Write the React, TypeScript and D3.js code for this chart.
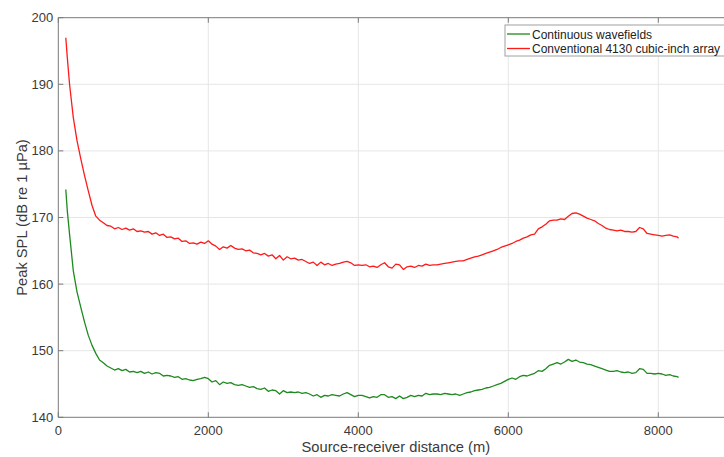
import React from "react";
import * as d3 from "d3";

const distances = [100, 120, 150, 200, 250, 300, 350, 400, 450, 500, 550, 600, 650, 700, 750, 800, 850, 900, 950, 1000, 1050, 1100, 1150, 1200, 1250, 1300, 1350, 1400, 1450, 1500, 1550, 1600, 1650, 1700, 1750, 1800, 1850, 1900, 1950, 2000, 2050, 2100, 2150, 2200, 2250, 2300, 2350, 2400, 2450, 2500, 2550, 2600, 2650, 2700, 2750, 2800, 2850, 2900, 2950, 3000, 3050, 3100, 3150, 3200, 3250, 3300, 3350, 3400, 3450, 3500, 3550, 3600, 3650, 3700, 3750, 3800, 3850, 3900, 3950, 4000, 4050, 4100, 4150, 4200, 4250, 4300, 4350, 4400, 4450, 4500, 4550, 4600, 4650, 4700, 4750, 4800, 4850, 4900, 4950, 5000, 5050, 5100, 5150, 5200, 5250, 5300, 5350, 5400, 5450, 5500, 5550, 5600, 5650, 5700, 5750, 5800, 5850, 5900, 5950, 6000, 6050, 6100, 6150, 6200, 6250, 6300, 6350, 6400, 6450, 6500, 6550, 6600, 6650, 6700, 6750, 6800, 6850, 6900, 6950, 7000, 7050, 7100, 7150, 7200, 7250, 7300, 7350, 7400, 7450, 7500, 7550, 7600, 7650, 7700, 7750, 7800, 7850, 7900, 7950, 8000, 8050, 8100, 8150, 8200, 8250, 8270];

const conventionalValues = [197, 194, 190, 185, 181.5, 178.8, 176.3, 174, 171.8, 170.2, 169.6, 169.2, 168.8, 168.7, 168.3, 168.5, 168.2, 168.4, 168.1, 168.3, 167.9, 168.0, 167.8, 167.9, 167.5, 167.7, 167.3, 167.5, 167.0, 167.1, 166.8, 166.9, 166.4, 166.5, 166.1, 166.2, 166.0, 166.3, 166.1, 166.5, 166.0, 165.7, 165.2, 165.6, 165.4, 165.8, 165.4, 165.2, 165.3, 165.0, 165.1, 164.7, 164.6, 164.4, 164.6, 164.2, 164.4, 163.8, 164.3, 163.6, 164.1, 163.8, 163.9, 163.6, 163.7, 163.4, 163.1, 163.3, 162.8, 163.3, 162.9, 163.1, 162.8, 163.0, 163.1, 163.3, 163.4, 163.2, 162.8, 162.9, 162.8, 162.9, 162.6, 162.7, 162.5, 162.9, 163.2, 162.6, 162.4, 163.0, 162.9, 162.2, 162.6, 162.7, 162.5, 162.8, 162.7, 163.0, 162.8, 162.9, 162.9, 163.0, 163.1, 163.2, 163.3, 163.4, 163.5, 163.5, 163.7, 163.9, 164.1, 164.2, 164.4, 164.6, 164.8, 165.0, 165.2, 165.5, 165.7, 165.9, 166.1, 166.4, 166.6, 166.9, 167.1, 167.4, 167.5, 168.3, 168.6, 169.0, 169.5, 169.6, 169.6, 169.8, 169.7, 170.2, 170.6, 170.7, 170.5, 170.2, 169.9, 169.7, 169.5, 169.1, 168.8, 168.4, 168.2, 168.1, 168.0, 168.1, 167.9, 167.9, 167.8, 167.9, 168.5, 168.3, 167.6, 167.5, 167.4, 167.3, 167.2, 167.3, 167.4, 167.2, 167.1, 166.9];

const continuousValues = [174.2, 171, 167.5, 162.0, 158.8, 156.5, 154.3, 152.3, 150.8, 149.6, 148.6, 148.2, 147.7, 147.4, 147.1, 147.3, 147.0, 147.2, 146.8, 146.9, 146.7, 146.9, 146.6, 146.8, 146.5, 146.7, 146.6, 146.2, 146.3, 146.2, 146.0, 146.1, 145.7, 145.8, 145.6, 145.5, 145.7, 145.8, 146.0, 145.8, 145.3, 145.5, 144.9, 145.3, 145.1, 145.2, 144.9, 144.8, 144.9, 144.7, 144.5, 144.6, 144.3, 144.2, 144.4, 143.9, 144.1, 144.0, 143.5, 144.0, 143.7, 143.8, 143.7, 143.8, 143.6, 143.7, 143.5, 143.2, 143.4, 143.0, 143.3, 143.2, 143.4, 143.3, 143.2, 143.5, 143.7, 143.4, 143.1, 143.3, 143.3, 143.1, 142.9, 143.1, 143.0, 143.4, 143.4, 143.0, 143.1, 142.8, 143.2, 142.8, 143.0, 143.3, 143.1, 143.3, 143.2, 143.6, 143.4, 143.5, 143.5, 143.4, 143.6, 143.5, 143.4, 143.5, 143.3, 143.5, 143.7, 143.8, 144.0, 144.1, 144.2, 144.4, 144.5, 144.7, 144.9, 145.1, 145.4, 145.7, 145.9, 145.7, 146.1, 146.3, 146.2, 146.4, 146.6, 147.0, 146.9, 147.3, 147.8, 148.0, 148.2, 148.0, 148.3, 148.7, 148.4, 148.6, 148.3, 148.2, 148.0, 147.9, 147.7, 147.5, 147.3, 147.1, 146.9, 146.9, 147.0, 146.8, 146.7, 146.8, 146.6, 146.7, 147.3, 147.2, 146.6, 146.6, 146.5, 146.6, 146.5, 146.3, 146.4, 146.2, 146.1, 146.0];

const xTicks = [0, 2000, 4000, 6000, 8000];
const yTicks = [140, 150, 160, 170, 180, 190, 200];
const seriesNames = ["Continuous wavefields", "Conventional 4130 cubic-inch array"];
const seriesColors = ["#1d8a1d", "#ff1a1a"];

const W = 724;
const H = 457;
const M = { left: 58.3, top: 17.7, right: 733.3, bottom: 417.3 };
const FONT = "'Liberation Sans', Arial, sans-serif";

export default function App() {
  const x = d3.scaleLinear().domain([0, 9000]).range([M.left, M.right]);
  const y = d3.scaleLinear().domain([140, 200]).range([M.bottom, M.top]);
  const line = d3
    .line<number>()
    .x((_, i) => x(distances[i]))
    .y((v) => y(v));
  const series = [continuousValues, conventionalValues];
  const axisColor = "#7a7a7a";
  const textColor = "#3a3a3a";
  const gridColor = "#e6e6e6";

  return (
    <svg
      width={W}
      height={H}
      style={{ position: "absolute", left: 0, top: 0, background: "#fff" }}
      fontFamily={FONT}
    >
      <defs>
        <clipPath id="plotclip">
          <rect x={M.left} y={M.top} width={M.right - M.left} height={M.bottom - M.top} />
        </clipPath>
      </defs>
      {xTicks.slice(1).map((t) => (
        <line key={"gx" + t} x1={x(t)} x2={x(t)} y1={M.top} y2={M.bottom} stroke={gridColor} strokeWidth={1} />
      ))}
      {yTicks.slice(1, -1).map((t) => (
        <line key={"gy" + t} x1={M.left} x2={M.right} y1={y(t)} y2={y(t)} stroke={gridColor} strokeWidth={1} />
      ))}
      <g clipPath="url(#plotclip)">
        {series.map((s, i) => (
          <path key={i} d={line(s) || ""} fill="none" stroke={seriesColors[i]} strokeWidth={1.3} strokeLinejoin="round" />
        ))}
      </g>
      <line x1={M.left} x2={M.right} y1={M.bottom} y2={M.bottom} stroke={axisColor} />
      <line x1={M.left} x2={M.right} y1={M.top} y2={M.top} stroke={axisColor} />
      <line x1={M.left} x2={M.left} y1={M.top} y2={M.bottom} stroke={axisColor} />
      {xTicks.map((t) => (
        <g key={"xt" + t}>
          <line x1={x(t)} x2={x(t)} y1={M.bottom} y2={M.bottom - 5} stroke={axisColor} />
          <line x1={x(t)} x2={x(t)} y1={M.top} y2={M.top + 5} stroke={axisColor} />
          <text x={x(t)} y={M.bottom + 18} textAnchor="middle" fontSize={13} fill={textColor}>
            {t}
          </text>
        </g>
      ))}
      {yTicks.map((t) => (
        <g key={"yt" + t}>
          <line x1={M.left} x2={M.left + 5} y1={y(t)} y2={y(t)} stroke={axisColor} />
          <text x={M.left - 5} y={y(t) + 4.5} textAnchor="end" fontSize={13} fill={textColor}>
            {t}
          </text>
        </g>
      ))}
      <text x={(M.left + M.right) / 2} y={452} textAnchor="middle" fontSize={14.7} fill={textColor}>
        Source-receiver distance (m)
      </text>
      <text
        transform={`translate(26.5,${(M.top + M.bottom) / 2}) rotate(-90)`}
        textAnchor="middle"
        fontSize={14.7}
        fill={textColor}
      >
        Peak SPL (dB re 1 µPa)
      </text>
      <g>
        <rect x={505} y={25} width={230} height={31} fill="#fff" stroke="#a0a0a0" strokeWidth={1} />
        {seriesNames.map((n, i) => (
          <g key={n}>
            <line x1={507} x2={530} y1={34 + i * 14.5} y2={34 + i * 14.5} stroke={seriesColors[i]} strokeWidth={1.3} />
            <text x={532} y={38.5 + i * 14.5} fontSize={12} fill="#222">
              {n}
            </text>
          </g>
        ))}
      </g>
    </svg>
  );
}
